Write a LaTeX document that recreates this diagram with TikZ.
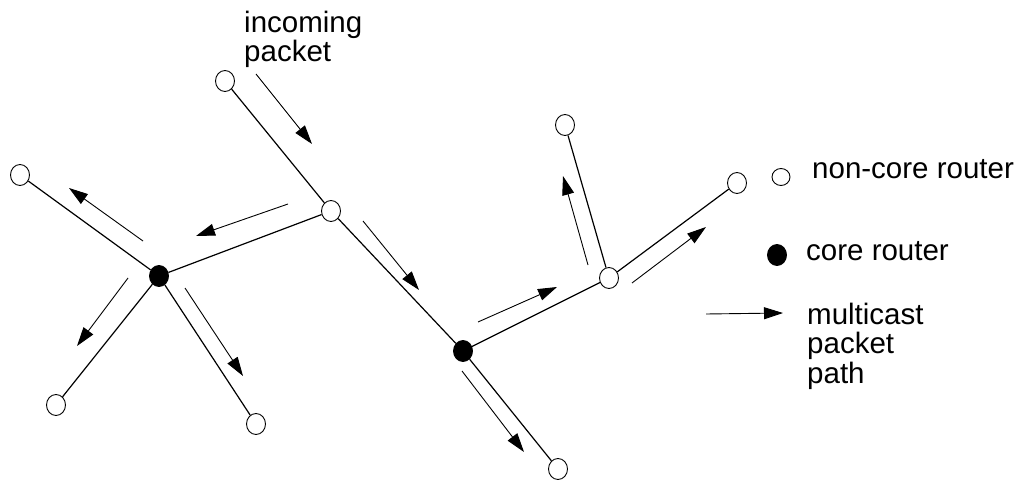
\documentclass[tikz,border=0pt]{standalone}
\usepackage{fontspec}
\setmainfont{Liberation Sans}
\usetikzlibrary{shapes,arrows.meta,positioning}

\begin{document}
\begin{tikzpicture}[
    x=1pt, y=-1pt,
    noncore/.style={ellipse, draw, line width=0.9pt, fill=white,
                    minimum width=19pt, minimum height=21pt, inner sep=0pt},
    core/.style={noncore, fill=black},
    link/.style={line width=1.2pt},
    flow/.style={-{Triangle[length=19pt, width=12pt]}, line width=0.9pt},
    label/.style={anchor=base west, align=left, inner sep=0pt,
                  font=\fontsize{29.5}{29.5}\selectfont}
  ]
  \useasboundingbox (0,0) rectangle (1025,481);

  % ---- Routers ----
  \node[noncore] (src)    at (225,81)  {};
  \node[noncore] (hub)    at (331,211) {};
  \node[core]    (coreL)  at (159,276) {};
  \node[noncore] (leafW)  at (20,175)  {};
  \node[noncore] (leafSW) at (56,405)  {};
  \node[noncore] (leafS)  at (256,424) {};
  \node[core]    (coreC)  at (463,351) {};
  \node[noncore] (leafSE) at (558,469) {};
  \node[noncore] (split)  at (609,278) {};
  \node[noncore] (leafN)  at (565,125) {};
  \node[noncore] (leafE)  at (737,183) {};

  % ---- Links ----
  \draw[link] (src)   -- (hub);
  \draw[link] (hub)   -- (coreL);
  \draw[link] (coreL) -- (leafW);
  \draw[link] (coreL) -- (leafSW);
  \draw[link] (coreL) -- (leafS);
  \draw[link] (hub)   -- (coreC);
  \draw[link] (coreC) -- (leafSE);
  \draw[link] (coreC) -- (split);
  \draw[link] (split) -- (leafN);
  \draw[link] (split) -- (leafE);

  % ---- Packet flow ----
  \coordinate (f1a)  at (256,74);  \coordinate (f1b)  at (312,144);
  \coordinate (f2a)  at (288,204); \coordinate (f2b)  at (196,236);
  \coordinate (f3a)  at (143,241); \coordinate (f3b)  at (69,188);
  \coordinate (f4a)  at (128,278); \coordinate (f4b)  at (77,346);
  \coordinate (f5a)  at (185,288); \coordinate (f5b)  at (243,376);
  \coordinate (f6a)  at (363,221); \coordinate (f6b)  at (419,290);
  \coordinate (f7a)  at (478,322); \coordinate (f7b)  at (557,287);
  \coordinate (f8a)  at (462,371); \coordinate (f8b)  at (524,452);
  \coordinate (f9a)  at (588,265); \coordinate (f9b)  at (563,176);
  \coordinate (f10a) at (632,283); \coordinate (f10b) at (706,227);
  \foreach \i in {1,...,10}
    \draw[flow] (f\i a) -- (f\i b);

  % base of a multi-line label is its last line
  \node[label] (inlbl) at (244,62) {incoming\\packet};

  % ---- Legend ----
  \node[noncore, minimum width=18pt, minimum height=17pt] (keynon) at (781,177) {};
  \node[core] (keycore) at (777,255) {};
  \coordinate (keyfa) at (706,314);
  \coordinate (keyfb) at (783,313);
  \draw[flow] (keyfa) -- (keyfb);

  \node[label] (keynonlbl)  at (812,179) {non-core router};
  \node[label] (keycorelbl) at (806,260) {core router};
  \node[label] (keyflowlbl) at (807,383) {multicast\\packet\\path};
\end{tikzpicture}
\end{document}
